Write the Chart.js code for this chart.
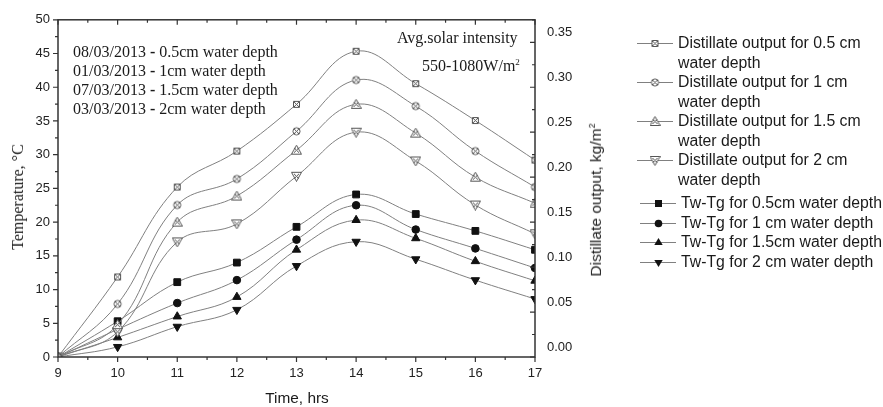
<!DOCTYPE html>
<html>
<head>
<meta charset="utf-8">
<script src="https://cdn.jsdelivr.net/npm/chart.js@4"></script>
<style>
body { margin: 0; background: #fff; }
#wrap { position: relative; width: 883px; height: 407px; overflow: hidden; }
#box { position: absolute; left: 0; top: 0; width: 620px; height: 407px; }
.note { position: absolute; font-family: "Liberation Serif", serif; font-size: 16px; color: #1a1a1a; line-height: 19px; white-space: nowrap; }
.title { position: absolute; white-space: nowrap; color: #1a1a1a; transform: translate(-50%, -50%); }
#legend { position: absolute; left: 637px; top: 33px; font-family: "Liberation Sans", Arial, sans-serif; font-size: 15.8px; color: #1a1a1a; line-height: 19.5px; }
.item { display: flex; align-items: flex-start; }
.item canvas { margin-top: 4px; margin-right: 5px; }
</style>
</head>
<body>
<div id="wrap">
  <div id="box"><canvas id="myChart"></canvas></div>
  <div class="note" style="left:73px; top:42px;">08/03/2013 <b>-</b> 0.5cm water depth<br>01/03/2013 <b>-</b> 1cm water depth<br>07/03/2013 <b>-</b> 1.5cm water depth<br>03/03/2013 <b>-</b> 2cm water depth</div>
  <div class="note" style="left:397px; top:28px;">Avg.solar intensity</div>
  <div class="note" style="left:422px; top:53px;">550-1080W/m<sup style="font-size:9px">2</sup></div>
  <div class="title" style="left:18px; top:197px; font-family:'Liberation Serif',serif; font-size:16px; transform:translate(-50%,-50%) rotate(-90deg);">Temperature, °C</div>
  <div class="title" style="left:596px; top:200px; font-family:'Liberation Sans',sans-serif; font-size:15.5px; transform:translate(-50%,-50%) rotate(-90deg);">Distillate output, kg/m<sup style="font-size:9px">2</sup></div>
  <div class="title" style="left:297px; top:398px; font-family:'Liberation Sans',sans-serif; font-size:15.4px;">Time, hrs</div>
  <div id="legend"></div>
</div>
<script>
// 時刻 (hrs)
var hours = [9, 10, 11, 12, 13, 14, 15, 16, 17];

// 蒸留水量 kg/m2 (右軸)
var dist05 = [0, 0.089, 0.189, 0.229, 0.281, 0.340, 0.304, 0.263, 0.219];
var dist1  = [0, 0.059, 0.169, 0.198, 0.251, 0.308, 0.279, 0.229, 0.189];
var dist15 = [0, 0.036, 0.150, 0.179, 0.230, 0.281, 0.249, 0.200, 0.171];
var dist2  = [0, 0.028, 0.128, 0.148, 0.201, 0.250, 0.218, 0.169, 0.137];

// Tw-Tg (左軸, °C)
var twtg05 = [0, 5.3, 11.1, 14.0, 19.3, 24.1, 21.2, 18.7, 15.9];
var twtg1  = [0, 4.1, 8.0, 11.4, 17.4, 22.5, 18.9, 16.1, 13.2];
var twtg15 = [0, 2.9, 6.0, 8.9, 15.9, 20.3, 17.6, 14.2, 11.3];
var twtg2  = [0, 1.5, 4.5, 7.0, 13.5, 17.1, 14.5, 11.4, 8.6];

var distLabels = ["Distillate output for 0.5 cm water depth", "Distillate output for 1 cm water depth",
                  "Distillate output for 1.5 cm water depth", "Distillate output for 2 cm water depth"];
var twtgLabels = ["Tw-Tg for 0.5cm water depth", "Tw-Tg for 1 cm water depth",
                  "Tw-Tg for 1.5cm water depth", "Tw-Tg for 2 cm water depth"];

var lineColor = '#808080';

// 白抜きマーカー (×入り) を作る
function makeMarker(kind) {
  var c = document.createElement('canvas');
  c.width = 11; c.height = 11;
  var g = c.getContext('2d');
  g.strokeStyle = '#555'; g.lineWidth = 1; g.fillStyle = '#fff';
  g.beginPath();
  if (kind == 'sq') {
    g.rect(2.5, 2.5, 6, 6);
  } else if (kind == 'ci') {
    g.arc(5.5, 5.5, 3.6, 0, 2 * Math.PI);
  } else if (kind == 'up') {
    g.moveTo(5.5, 0.5); g.lineTo(10.5, 9.5); g.lineTo(0.5, 9.5); g.closePath();
  } else {
    g.moveTo(0.5, 1.5); g.lineTo(10.5, 1.5); g.lineTo(5.5, 10.5); g.closePath();
  }
  g.fill(); g.stroke();
  g.beginPath();
  g.moveTo(3, 3); g.lineTo(8, 8); g.moveTo(8, 3); g.lineTo(3, 8);
  g.stroke();
  return c;
}

var distMarkers = [makeMarker('sq'), makeMarker('ci'), makeMarker('up'), makeMarker('dn')];
var distSeries = [dist05, dist1, dist15, dist2];
var twtgSeries = [twtg05, twtg1, twtg15, twtg2];
var twtgStyles = [
  { style: 'rect', radius: 4.8, rot: 0 },
  { style: 'circle', radius: 3.8, rot: 0 },
  { style: 'triangle', radius: 4.8, rot: 0 },
  { style: 'triangle', radius: 4.8, rot: 180 }
];

function toPoints(vals) {
  return hours.map((h, i) => ({ x: h, y: vals[i] }));
}

var datasets = [];
for (let i = 0; i < 4; i++) {
  datasets.push({
    label: distLabels[i],
    data: toPoints(distSeries[i]),
    yAxisID: 'y2',
    borderColor: lineColor,
    borderWidth: 1,
    tension: 0.4,
    pointStyle: distMarkers[i],
    pointRadius: 5,
    clip: 0
  });
}
for (let i = 0; i < 4; i++) {
  datasets.push({
    label: twtgLabels[i],
    data: toPoints(twtgSeries[i]),
    yAxisID: 'y',
    borderColor: lineColor,
    borderWidth: 1,
    tension: 0.4,
    pointStyle: twtgStyles[i].style,
    pointRadius: twtgStyles[i].radius,
    pointRotation: twtgStyles[i].rot,
    pointBackgroundColor: '#111',
    pointBorderColor: '#111',
    pointBorderWidth: 1,
    clip: 0
  });
}

// 枠と目盛り線
var framePlugin = {
  id: 'frame',
  afterDatasetsDraw(chart) {
    var ctx = chart.ctx, a = chart.chartArea;
    var sx = chart.scales.x, sy = chart.scales.y, sy2 = chart.scales.y2;
    ctx.save();
    ctx.strokeStyle = '#333';
    ctx.lineWidth = 1.5;
    ctx.strokeRect(a.left, a.top, a.right - a.left, a.bottom - a.top);
    ctx.lineWidth = 1.2;
    ctx.beginPath();
    sx.ticks.forEach(t => {
      var p = sx.getPixelForValue(t.value);
      var len = Number.isInteger(t.value) ? 5 : 3;
      ctx.moveTo(p, a.bottom); ctx.lineTo(p, a.bottom + len);
      ctx.moveTo(p, a.top); ctx.lineTo(p, a.top + len);
    });
    sy.ticks.forEach(t => {
      var p = sy.getPixelForValue(t.value);
      var len = t.value % 5 === 0 ? 5 : 3;
      ctx.moveTo(a.left - len, p); ctx.lineTo(a.left, p);
    });
    sy2.ticks.forEach(t => {
      var p = sy2.getPixelForValue(t.value);
      var k = t.value / 0.05;
      var len = Math.abs(k - Math.round(k)) < 1e-6 ? 5 : 3;
      ctx.moveTo(a.right - len, p); ctx.lineTo(a.right, p);
    });
    ctx.stroke();
    ctx.restore();
  }
};

var tickFont = { family: 'Liberation Sans', size: 13 };

var ctx = document.getElementById('myChart').getContext('2d');
var myChart = new Chart(ctx, {
  type: 'line',
  data: { datasets: datasets },
  options: {
    responsive: true,
    maintainAspectRatio: false,
    animation: false,
    layout: { padding: { top: 15, left: 0, right: 0, bottom: 0 } },
    plugins: { legend: { display: false }, tooltip: { enabled: false } },
    scales: {
      x: {
        type: 'linear',
        min: 9, max: 17,
        grid: { display: false, drawTicks: false },
        border: { display: false },
        ticks: {
          stepSize: 0.5, autoSkip: false, maxRotation: 0, padding: 9,
          font: tickFont, color: '#222',
          callback: v => Number.isInteger(v) ? v : ''
        },
        afterFit: s => { s.height = 50; }
      },
      y: {
        position: 'left',
        min: 0, max: 50,
        grid: { display: false, drawTicks: false },
        border: { display: false },
        ticks: {
          stepSize: 2.5, autoSkip: false, padding: 8,
          font: tickFont, color: '#222',
          callback: v => v % 5 === 0 ? v : ''
        },
        afterFit: s => { s.width = 58; }
      },
      y2: {
        position: 'right',
        min: 0, max: 0.375,
        grid: { display: false, drawTicks: false },
        border: { display: false },
        ticks: {
          stepSize: 0.025, autoSkip: false, padding: 12, labelOffset: -10,
          font: tickFont, color: '#222',
          callback: v => {
            var k = v / 0.05;
            return Math.abs(k - Math.round(k)) < 1e-6 ? v.toFixed(2) : '';
          }
        },
        afterFit: s => { s.width = 85; }
      }
    }
  },
  plugins: [framePlugin]
});

// 凡例 (線+マーカー)
function legendIcon(i) {
  var c = document.createElement('canvas');
  c.width = 36; c.height = 12;
  var g = c.getContext('2d');
  g.strokeStyle = lineColor; g.lineWidth = 1;
  g.beginPath(); g.moveTo(0, 6.5); g.lineTo(36, 6.5); g.stroke();
  if (i < 4) {
    g.drawImage(distMarkers[i], 18 - 5.5, 1);
  } else {
    var s = twtgStyles[i - 4];
    g.fillStyle = '#111';
    g.beginPath();
    if (s.style == 'rect') g.rect(15, 3, 7, 7);
    else if (s.style == 'circle') g.arc(18.5, 6.5, 3.8, 0, 2 * Math.PI);
    else if (s.rot == 0) { g.moveTo(18.5, 2); g.lineTo(22.7, 9); g.lineTo(14.3, 9); g.closePath(); }
    else { g.moveTo(14.3, 4); g.lineTo(22.7, 4); g.lineTo(18.5, 11); g.closePath(); }
    g.fill();
  }
  return c;
}

var legend = document.getElementById('legend');
var allLabels = distLabels.concat(twtgLabels);
allLabels.forEach((lab, i) => {
  var row = document.createElement('div');
  row.className = 'item';
  if (i == 4) { row.style.marginTop = '4px'; row.style.marginLeft = '3px'; }
  if (i > 4) { row.style.marginLeft = '3px'; }
  row.appendChild(legendIcon(i));
  var txt = document.createElement('div');
  txt.textContent = lab;
  if (i < 4) txt.style.width = '195px';
  else txt.style.whiteSpace = 'nowrap';
  row.appendChild(txt);
  legend.appendChild(row);
});
</script>
</body>
</html>
